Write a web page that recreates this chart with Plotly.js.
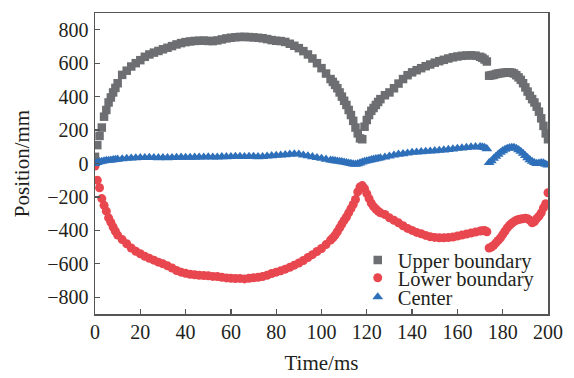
<!DOCTYPE html>
<html>
<head>
<meta charset="utf-8">
<script src="https://cdn.plot.ly/plotly-3.0.1.min.js"></script>
<style>html,body{margin:0;padding:0;background:#fff;}#chart{width:574px;height:378px;}</style>
</head>
<body>
<div id="chart"></div>
<script>
// Time (ms)
const timeMs = [
  0,1,2,3,4,5,6,7,8,9,10,
  12,14,16,18,20,22,24,26,28,30,32,34,36,38,40,42,44,46,48,50,52,54,56,58,60,62,64,66,68,70,72,74,76,78,80,82,84,86,88,90,92,94,96,98,100,102,104,
  105,106,107,108,109,110,111,112,113,114,115,116,117,118,119,120,121,122,123,124,125,126,
  128,130,132,134,136,138,140,142,144,146,148,150,152,154,156,158,160,162,164,166,168,170,
  171,172,173,174,175,176,177,178,179,180,181,182,183,184,185,186,187,188,189,190,191,192,193,194,195,196,197,198,199,200
];
// Upper boundary (mm)
const upperBoundary = [
  40,110,165,215,280,320,365,395,425,452,480,
  530,555,580,600,618, 638,652,663,673,683, 692,702,712,720,726, 730,733,734,735,733,
  732,736,742,748,752, 755,757,757,756,754, 752,749,744,738,734, 732,727,716,704,690,
  672,652,628,600,570, 538,505,
  488,470,450,425,400,375,350,320,290,255,215,180,150,145,220,260,290,315,332,350,368,385,
  408,425,450,478,505,528,545,558,570,582,592,603,612,620,628,635,640,644,646,647,645,638,
  632,622,610,525,528,530,535,538,540,542,543,545,545,543,538,528,515,500,480,455,430,405,385,365,340,310,270,225,180,145
];
// Lower boundary (mm)
const lowerBoundary = [
  -15,-100,-145,-210,-250,-285,-325,-352,-380,-405,-428,
  -455,-480,-505,-525,-540, -555,-567,-578,-590,-600, -612,-625,-640,-650,-657, -662,-666,-669,-670,-672,
  -675,-676,-680,-684,-686, -688,-687,-690,-686,-683, -680,-676,-668,-658,-650, -642,-632,-621,-608,-595,
  -580,-562,-545,-526,-508, -485,-458,
  -445,-428,-408,-385,-362,-340,-320,-295,-270,-245,-215,-170,-140,-132,-150,-180,-210,-238,-258,-272,-285,-295,
  -305,-325,-340,-355,-372,-388,-400,-412,-420,-430,-438,-442,-444,-444,-443,-440,-434,-428,-422,-416,-410,-404,
  -402,-400,-408,-505,-500,-490,-475,-460,-445,-425,-405,-385,-370,-358,-348,-340,-335,-332,-330,-328,-330,-340,-355,-348,-330,-315,-295,-265,-240,-175
];
// Center (mm)
const center = [
  0,5,10,12,15,18,18,20,22,24,25,
  27,30,32,33,35, 35,36,35,34,35, 34,35,36,37,36, 36,37,38,38,39,
  38,38,40,40,41, 42,42,41,42,42, 40,41,44,46,48, 50,52,55,57,56,
  50,45,40,35,30, 25,20,
  18,16,14,12,10,8,5,2,0,-3,-5,-2,3,8,12,15,18,22,25,28,30,33,
  38,44,50,55,58,62,66,68,70,72,74,76,78,80,83,86,90,92,95,98,100,100,
  98,95,88,5,15,30,42,55,66,76,84,90,94,96,95,90,82,72,60,47,34,22,12,5,0,2,5,3,-5,-10
];
const seriesNames = ['Upper boundary', 'Lower boundary', 'Center'];
const xTicks = [0,20,40,60,80,100,120,140,160,180,200];
const yTicks = [-800,-600,-400,-200,0,200,400,600,800];

const FONT = 'Liberation Serif, Times New Roman, serif';
const TXT = '#231f20';
const AX = '#555555';

const traces = [
  {x: timeMs, y: upperBoundary, name: seriesNames[0], type: 'scatter', mode: 'markers',
   marker: {symbol: 'square', size: 8.5, color: '#6d6e71'}, legend: 'legend'},
  {x: timeMs, y: lowerBoundary, name: seriesNames[1], type: 'scatter', mode: 'markers',
   marker: {symbol: 'circle', size: 9, color: '#e8474f'}, legend: 'legend2'},
  {x: timeMs, y: center, name: seriesNames[2], type: 'scatter', mode: 'markers',
   marker: {symbol: 'triangle-up', size: 9.5, color: '#2e6fba'}, legend: 'legend3'}
];

function leg(y) {
  return {x: 0.58, y: y, xanchor: 'left', yanchor: 'middle', bgcolor: 'rgba(0,0,0,0)',
          borderwidth: 0, font: {family: FONT, size: 20.5, color: TXT}, itemwidth: 30};
}

const axisCommon = {
  showgrid: false, zeroline: false, showline: true, linecolor: AX, linewidth: 1.5, mirror: true,
  ticks: 'inside', ticklen: 5, tickwidth: 1.3, tickcolor: AX,
  tickfont: {family: FONT, size: 20, color: TXT}
};

const layout = {
  width: 574, height: 378,
  margin: {l: 95, r: 26, t: 13, b: 64},
  paper_bgcolor: '#fff', plot_bgcolor: '#fff',
  font: {family: FONT, color: TXT},
  showlegend: true,
  legend: leg(0.179), legend2: leg(0.120), legend3: leg(0.056),
  xaxis: Object.assign({}, axisCommon, {
    range: [0, 200], tickvals: xTicks, ticklabelstandoff: -1,
    title: {text: 'Time/ms', font: {family: FONT, size: 21, color: TXT}, standoff: 14}
  }),
  yaxis: Object.assign({}, axisCommon, {
    range: [-900, 900], tickvals: yTicks, ticklabelstandoff: 1,
    title: {text: 'Position/mm', font: {family: FONT, size: 21, color: TXT}, standoff: 12}
  })
};

Plotly.newPlot('chart', traces, layout, {displayModeBar: false, staticPlot: true});
</script>
</body>
</html>
